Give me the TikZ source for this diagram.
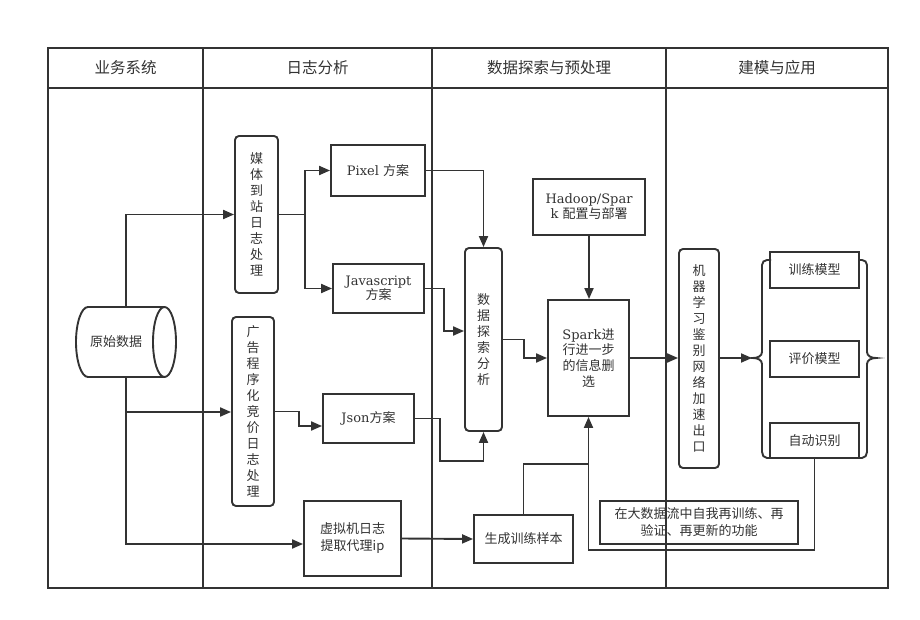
\documentclass[tikz,border=0pt]{standalone}
\usepackage{fontspec}
\setmainfont{DejaVu Serif}
\newfontfamily\cjk{Noto Sans CJK SC}
\usetikzlibrary{arrows.meta,calc}
\definecolor{ink}{HTML}{333333}
\begin{document}
\begin{tikzpicture}[x=1pt,y=-1pt,
  lane/.style={draw=ink, line width=1.9pt},
  conn/.style={draw=ink, line width=1.9pt},
  arr/.style={conn, -{Triangle[length=11pt,width=9pt]}},
  box/.style={draw=ink, line width=1.9pt, inner sep=1pt, text=ink, align=center, font=\fontsize{13}{16}\selectfont},
  rbox/.style={box, rounded corners=4pt, font=\cjk\fontsize{13}{16}\selectfont},
  cbox/.style={box, font=\cjk\fontsize{13}{17}\selectfont},
  head/.style={text=ink, font=\cjk\fontsize{15.5}{18}\selectfont}]
\fill[white] (0,0) rectangle (920,620);
\useasboundingbox (0,0) rectangle (920,620);
% swimlanes
\draw[lane] (48,48) rectangle (888,588);
\draw[lane] (48,88) -- (888,88);
\draw[lane] (203,48) -- (203,588);
\draw[lane] (432,48) -- (432,588);
\draw[lane] (666,48) -- (666,588);
\node[head] (h1) at (125.5,68) {业务系统};
\node[head] (h2) at (317.5,68) {日志分析};
\node[head] (h3) at (549,68) {数据探索与预处理};
\node[head] (h4) at (777,68) {建模与应用};
% cylinder
\draw[lane, fill=white] (164.5,307) -- (88,307) .. controls (81.4,307) and (76,322.7) .. (76,342)
   .. controls (76,361.3) and (81.4,377) .. (88,377) -- (164.5,377);
\draw[lane, fill=white] (164.5,342) ellipse [x radius=11.5pt, y radius=35pt];
\node[text=ink, font=\cjk\fontsize{13}{16}\selectfont, minimum width=100pt, minimum height=70pt, inner sep=0pt] (raw) at (126,342) {\hspace*{-20pt}原始数据};
% log analysis
\node[rbox, minimum width=43pt, minimum height=157pt] (media) at (256.5,214.5) {媒\\体\\到\\站\\日\\志\\处\\理};
\node[rbox, minimum width=42pt, minimum height=189pt] (ad) at (253,411.5) {广\\告\\程\\序\\化\\竞\\价\\日\\志\\处\\理};
\node[box, minimum width=94pt, minimum height=51pt] (pixel) at (378,170.5) {Pixel {\cjk 方案}};
\node[box, minimum width=91pt, minimum height=49pt] (js) at (378.5,288.5) {Javascript\\[-2pt]{\cjk 方案}};
\node[box, minimum width=91pt, minimum height=49pt] (json) at (368.5,418.5) {Json{\cjk 方案}};
\node[cbox, minimum width=97pt, minimum height=75pt] (vm) at (352.5,538.5) {虚拟机日志\\提取代理ip};
% exploration
\node[rbox, minimum width=37pt, minimum height=183pt] (explore) at (483.5,339.5) {数\\据\\探\\索\\分\\析};
\node[box, minimum width=112pt, minimum height=56pt] (hadoop) at (589,207) {Hadoop/Spar\\[-1pt]k {\cjk 配置与部署}};
\node[box, minimum width=81pt, minimum height=116pt] (spark) at (588.5,358) {Spark{\cjk 进}\\[-1pt]{\cjk 行进一步}\\{\cjk 的信息删}\\{\cjk 选}};
\node[cbox, minimum width=99pt, minimum height=48pt] (gen) at (523.5,539) {生成训练样本};
\node[cbox, minimum width=198pt, minimum height=43pt] (self) at (699,522.5) {在大数据流中自我再训练、再\\验证、再更新的功能};
% modelling
\node[rbox, minimum width=40pt, minimum height=219pt] (ml) at (699,358.5) {机\\器\\学\\习\\鉴\\别\\网\\络\\加\\速\\出\\口};
\node[cbox, minimum width=89pt, minimum height=36pt] (train) at (814.5,270) {训练模型};
\node[cbox, minimum width=89pt, minimum height=36pt] (eval) at (814.5,359) {评价模型};
\node[cbox, minimum width=89pt, minimum height=35pt] (auto) at (814.5,440.5) {自动识别};
% braces
\draw[lane] (771,260) -- (767,260) to[out=180,in=90] (762,265) -- (762,352) to[out=-90,in=0] (753,358)
   to[out=0,in=90] (762,364) -- (762,452) to[out=-90,in=180] (767,458) -- (771,458);
\draw[lane] (858,260) -- (862,260) to[out=0,in=90] (867,265) -- (867,352) to[out=-90,in=180] (876,358)
   to[out=180,in=90] (867,364) -- (867,452) to[out=-90,in=0] (862,458) -- (858,458);
\coordinate (bracetip) at (752,358);
% connectors
\coordinate (brA) at (126,412);
\coordinate (j1) at (305,214.5);
\draw[arr] (raw.north) |- (media.west);
\draw[arr] (raw.south) |- ($(vm.west)+(0,5.5)$);
\draw[arr] (brA) -- (brA -| ad.west);
\draw[conn] (media.east) -- (j1);
\draw[arr] (j1) |- (pixel.west);
\draw[arr] (j1) |- (js.west);
\draw[arr] (ad.east) -- (299,411.5) |- ($(json.west)+(0,7.5)$);
\draw[arr] (pixel.east) -| (explore.north);
\draw[arr] (js.east) -- (444,288.5) |- ($(explore.west)+(0,-8.5)$);
\draw[arr] (json.east) -- (440,418.5) -- (440,461) -| (explore.south);
\draw[arr] (explore.east) -- (524,339.5) |- (spark.west);
\draw[arr] (hadoop.south) -- (hadoop.south |- spark.north);
\draw[arr] (spark.east) -- (spark.east -| ml.west);
\draw[arr] (ml.east |- bracetip) -- (bracetip);
\draw[arr] (auto.south) -- (auto.south |- 0,550) -| (spark.south);
\draw[conn] (gen.north) |- (spark.south |- 0,464);
\draw[arr] (vm.east) -- (gen.west);
\end{tikzpicture}
\end{document}
